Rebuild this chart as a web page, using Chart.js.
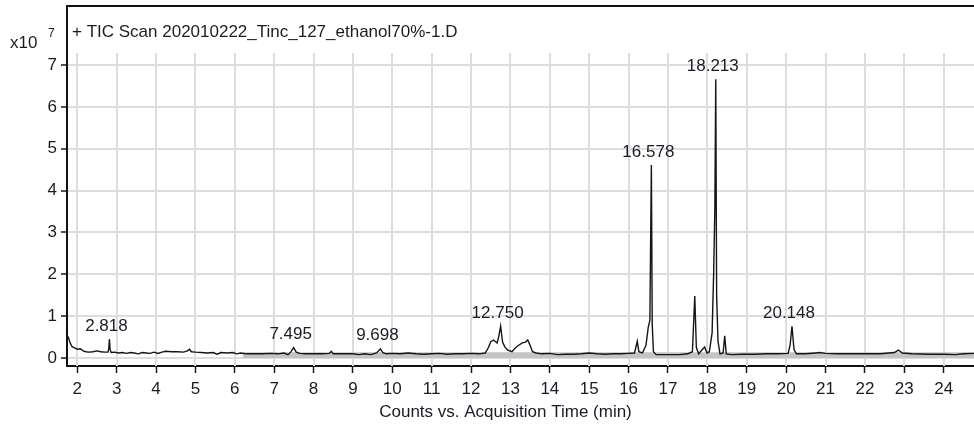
<!DOCTYPE html>
<html>
<head>
<meta charset="utf-8">
<script src="https://cdn.jsdelivr.net/npm/chart.js@4.4.1/dist/chart.umd.min.js"></script>
<style>
  html, body { margin: 0; padding: 0; background: #ffffff; }
  #wrap { width: 974px; height: 425px; }
</style>
</head>
<body>
<div id="wrap"><canvas id="tic" width="974" height="425"></canvas></div>
<script>
// Total ion chromatogram: acquisition time (min) and counts (x10^7)
const retentionTimes = [
  1.74, 1.78, 1.82, 1.87, 1.93, 2.00, 2.08, 2.15, 2.22, 2.30, 2.40, 2.50, 2.60, 2.70, 2.78, 2.80, 2.818, 2.835, 2.86, 2.95,
  3.05, 3.15, 3.25, 3.35, 3.45, 3.55, 3.65, 3.75, 3.85, 3.95, 4.05, 4.15, 4.25, 4.40, 4.55, 4.70, 4.80, 4.85, 4.90, 5.00,
  5.15, 5.30, 5.45, 5.55, 5.65, 5.80, 5.95, 6.05, 6.15, 6.30, 6.50, 6.70, 6.90, 7.10, 7.25, 7.35, 7.42, 7.495, 7.56, 7.65,
  7.80, 8.00, 8.20, 8.40, 8.45, 8.50, 8.70, 9.00, 9.15, 9.30, 9.45, 9.60, 9.698, 9.76, 9.85, 10.00, 10.20, 10.40, 10.60, 10.80,
  11.00, 11.20, 11.40, 11.60, 11.80, 12.00, 12.20, 12.36, 12.44, 12.50, 12.57, 12.66, 12.70, 12.750, 12.80, 12.86, 12.93, 13.04, 13.12, 13.20,
  13.30, 13.38, 13.44, 13.50, 13.56, 13.65, 13.80, 14.00, 14.20, 14.40, 14.60, 14.80, 15.00, 15.20, 15.40, 15.60, 15.80, 16.00, 16.15, 16.22,
  16.26, 16.35, 16.44, 16.50, 16.54, 16.578, 16.60, 16.63, 16.70, 16.90, 17.10, 17.30, 17.50, 17.62, 17.68, 17.72, 17.78, 17.85, 17.93, 17.99,
  18.05, 18.12, 18.16, 18.19, 18.213, 18.235, 18.27, 18.32, 18.40, 18.44, 18.48, 18.60, 18.90, 19.20, 19.50, 19.80, 20.05, 20.10, 20.148, 20.20,
  20.26, 20.50, 20.75, 20.85, 21.00, 21.30, 21.60, 22.00, 22.40, 22.75, 22.85, 22.95, 23.20, 23.60, 24.00, 24.30, 24.50, 24.77
];
const ticCounts = [
  0.55, 0.48, 0.36, 0.27, 0.24, 0.21, 0.22, 0.17, 0.15, 0.14, 0.15, 0.17, 0.15, 0.14, 0.14, 0.22, 0.45, 0.20, 0.13, 0.14,
  0.12, 0.13, 0.11, 0.13, 0.12, 0.10, 0.13, 0.12, 0.11, 0.14, 0.11, 0.14, 0.16, 0.15, 0.15, 0.14, 0.17, 0.21, 0.15, 0.14,
  0.13, 0.12, 0.13, 0.09, 0.13, 0.12, 0.13, 0.10, 0.12, 0.10, 0.10, 0.10, 0.11, 0.10, 0.12, 0.08, 0.14, 0.25, 0.14, 0.11,
  0.10, 0.10, 0.10, 0.11, 0.16, 0.10, 0.10, 0.10, 0.08, 0.10, 0.08, 0.12, 0.22, 0.13, 0.10, 0.11, 0.10, 0.12, 0.10, 0.09,
  0.10, 0.11, 0.09, 0.10, 0.10, 0.11, 0.10, 0.12, 0.25, 0.39, 0.43, 0.36, 0.50, 0.76, 0.38, 0.26, 0.19, 0.15, 0.24, 0.30,
  0.36, 0.38, 0.43, 0.30, 0.15, 0.12, 0.10, 0.11, 0.08, 0.09, 0.09, 0.10, 0.12, 0.10, 0.09, 0.10, 0.10, 0.11, 0.12, 0.40,
  0.15, 0.12, 0.30, 0.74, 0.90, 4.61, 0.80, 0.15, 0.08, 0.08, 0.08, 0.08, 0.10, 0.15, 1.48, 0.25, 0.10, 0.18, 0.26, 0.12,
  0.15, 0.60, 2.05, 3.60, 6.66, 1.50, 0.40, 0.10, 0.12, 0.53, 0.10, 0.08, 0.09, 0.09, 0.10, 0.10, 0.11, 0.30, 0.76, 0.20,
  0.10, 0.10, 0.12, 0.13, 0.11, 0.10, 0.10, 0.10, 0.10, 0.13, 0.19, 0.12, 0.10, 0.09, 0.09, 0.08, 0.10, 0.11
];
// Grey baseline envelope under the trace
const envelopeTimes = [6.2, 24.77];
const envelopeCounts = [0.14, 0.14];
// Labelled peaks (retention time, min)
const peakTimes = [2.818, 7.495, 9.698, 12.750, 16.578, 18.213, 20.148];
const peakLabels = ['2.818', '7.495', '9.698', '12.750', '16.578', '18.213', '20.148'];

const chartTitle = '+ TIC Scan 202010222_Tinc_127_ethanol70%-1.D';
const xAxisTitle = 'Counts vs. Acquisition Time (min)';
const yMultiplier = 'x10';
const yExponent = '7';

const FONT = '"Liberation Sans", Arial, sans-serif';
const TEXT = '#1b1b26';
const FS = 17;

const ticPoints = retentionTimes.map((t, i) => ({ x: t, y: ticCounts[i] }));
const envelopePoints = envelopeTimes.map((t, i) => ({ x: t, y: envelopeCounts[i] }));

// Vertical grid lines start just under the title strip
const vGridPlugin = {
  id: 'vGrid',
  beforeDatasetsDraw(chart) {
    const { ctx, chartArea, scales } = chart;
    const x = scales.x, y = scales.y;
    const topY = y.getPixelForValue(7) - 12;
    ctx.save();
    ctx.strokeStyle = '#dddddd';
    ctx.lineWidth = 2;
    x.ticks.forEach(tk => {
      if (!Number.isInteger(tk.value)) return;
      const px = Math.round(x.getPixelForValue(tk.value));
      ctx.beginPath();
      ctx.moveTo(px, topY);
      ctx.lineTo(px, chartArea.bottom);
      ctx.stroke();
    });
    ctx.restore();
  }
};

// Peak retention-time labels, titles and exponent
const annotatePlugin = {
  id: 'annotate',
  afterDatasetsDraw(chart) {
    const { ctx, scales } = chart;
    const x = scales.x, y = scales.y;
    ctx.save();
    ctx.fillStyle = TEXT;
    ctx.font = FS + 'px ' + FONT;
    ctx.textAlign = 'center';
    ctx.textBaseline = 'middle';
    peakTimes.forEach((t, i) => {
      const idx = retentionTimes.indexOf(t);
      const v = ticCounts[idx];
      ctx.fillText(peakLabels[i], x.getPixelForValue(t) - 3, y.getPixelForValue(v) - 13);
    });
    ctx.restore();
  },
  afterDraw(chart) {
    const { ctx, chartArea } = chart;
    ctx.save();
    // frame top edge
    ctx.strokeStyle = '#111111';
    ctx.lineWidth = 2;
    ctx.beginPath();
    ctx.moveTo(chartArea.left - 1, chartArea.top);
    ctx.lineTo(chartArea.right, chartArea.top);
    ctx.stroke();

    ctx.fillStyle = TEXT;
    ctx.textBaseline = 'middle';
    ctx.textAlign = 'left';
    ctx.font = FS + 'px ' + FONT;
    ctx.fillText(chartTitle, chartArea.left + 5, chartArea.top + 26);
    ctx.fillText(yMultiplier, 10, 43);
    ctx.font = '12px ' + FONT;
    ctx.fillText(yExponent, 48, 34);

    // x axis title
    ctx.font = FS + 'px ' + FONT;
    ctx.textAlign = 'center';
    ctx.fillText(xAxisTitle, (chartArea.left + chartArea.right) / 2 - 15, 412);
    ctx.restore();
  }
};

new Chart(document.getElementById('tic'), {
  type: 'line',
  data: {
    datasets: [
      {
        data: ticPoints,
        borderColor: '#151515',
        borderWidth: 1.4,
        pointRadius: 0,
        tension: 0,
        fill: false,
        order: 0
      },
      {
        data: envelopePoints,
        borderWidth: 0,
        borderColor: 'rgba(0,0,0,0)',
        backgroundColor: '#c4c4c4',
        pointRadius: 0,
        fill: 'origin',
        order: 1
      }
    ]
  },
  options: {
    responsive: false,
    animation: false,
    layout: { padding: { top: 6, right: 0, bottom: 0, left: 0 } },
    plugins: { legend: { display: false }, tooltip: { enabled: false } },
    scales: {
      x: {
        type: 'linear',
        min: 1.74,
        max: 24.77,
        afterFit(s) { s.height = 59; s.paddingLeft = 0; s.paddingRight = 0; },
        ticks: {
          stepSize: 1,
          includeBounds: false,
          autoSkip: false,
          maxRotation: 0,
          padding: 6,
          color: TEXT,
          font: { family: FONT, size: FS },
          callback: v => Number.isInteger(v) ? String(v) : ''
        },
        grid: { drawOnChartArea: false, drawTicks: true, tickLength: 7, tickColor: '#1a1a1a', tickWidth: 1.5 },
        border: { color: '#111111', width: 2 }
      },
      y: {
        type: 'linear',
        min: -0.191,
        max: 8.41,
        afterFit(s) { s.width = 67; s.paddingTop = 0; s.paddingBottom = 0; },
        ticks: {
          stepSize: 1,
          includeBounds: false,
          padding: 4,
          color: TEXT,
          font: { family: FONT, size: FS },
          callback: v => (Number.isInteger(v) && v <= 7) ? String(v) : ''
        },
        grid: {
          color: c => (c.tick && c.tick.value <= 7) ? '#dddddd' : 'rgba(0,0,0,0)',
          tickColor: c => (c.tick && c.tick.value <= 7) ? '#1a1a1a' : 'rgba(0,0,0,0)',
          lineWidth: 2,
          tickWidth: 1.5,
          tickLength: 6
        },
        border: { color: '#111111', width: 2 }
      }
    }
  },
  plugins: [vGridPlugin, annotatePlugin]
});
</script>
</body>
</html>
